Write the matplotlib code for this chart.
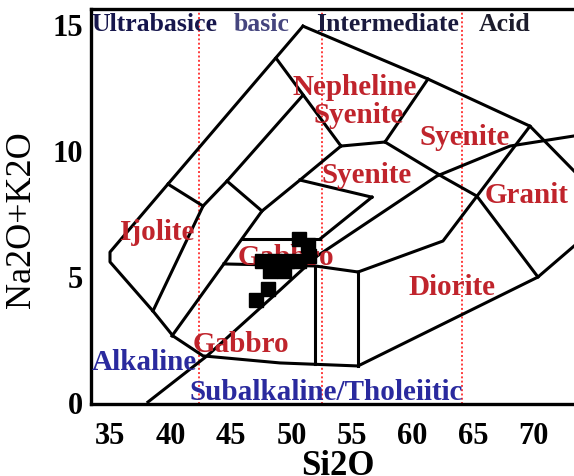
import matplotlib
matplotlib.use("Agg")
import matplotlib.pyplot as plt

# ---- field boundaries (SiO2, Na2O+K2O) ----
outer_top = [(50.95, 14.92), (61.28, 12.82), (69.71, 10.95), (73.35, 9.17)]
outer_left = [(50.95, 14.92), (39.79, 8.65), (35.0, 5.95), (35.0, 5.56), (38.55, 3.61),
              (40.21, 2.62), (42.69, 1.83), (49.05, 1.55), (55.50, 1.43), (70.37, 4.96),
              (73.35, 6.19)]
nepheline_left = [(48.72, 13.65), (54.09, 10.16)]
ijolite_right = [(50.95, 12.18), (44.67, 8.77), (42.69, 7.78), (38.55, 3.61)]
cross_1 = [(39.79, 8.65), (42.69, 7.78)]
cross_2 = [(44.67, 8.77), (47.56, 7.58)]
gabbro_left = [(54.09, 10.16), (50.70, 8.81), (47.56, 7.58), (40.12, 2.62)]
syenite_link = [(54.09, 10.16), (57.73, 10.32)]
nepheline_right = [(57.73, 10.32), (61.28, 12.82)]
granite_upper = [(57.73, 10.32), (62.52, 8.93), (65.33, 8.17), (70.37, 4.96)]
syenite_base = [(50.70, 8.81), (56.65, 8.13)]
syenite_side = [(56.65, 8.13), (52.36, 6.47)]
gabbro_top = [(45.91, 6.47), (52.36, 6.47)]
gabbro_mid = [(44.42, 5.48), (51.94, 5.40), (55.50, 5.16)]
vertical_1 = [(51.94, 5.40), (51.94, 1.50)]
vertical_2 = [(55.50, 5.16), (55.50, 1.43)]
diorite_top = [(55.50, 5.16), (62.52, 6.39), (65.33, 8.17), (69.71, 10.95)]
alkaline_line = [(38.14, 0.0), (43.02, 1.83), (49.05, 4.44), (52.11, 5.79),
                 (62.02, 8.97), (68.06, 10.16), (73.35, 10.56)]

# ---- samples ----
sample_sio2 = [50.62, 51.36, 47.56, 48.55, 49.63, 50.62, 51.45, 48.22, 49.38, 48.06, 47.07]
sample_alk = [6.47, 6.23, 5.60, 5.60, 5.60, 5.60, 5.79, 5.20, 5.20, 4.48, 4.05]

# ---- silica class limits and headers ----
class_limits = [42.36, 52.52, 64.09]
header_names = ["Ultrabasice", "basic", "Intermediate", "Acid"]
header_x = [38.7, 47.55, 57.95, 67.6]
header_colors = ["#16164c", "#45457e", "#1a1a3e", "#1c1c2c"]

field_names = ["Nepheline", "Syenite", "Syenite", "Syenite", "Granit", "Ijolite",
               "Gabbro", "Diorite", "Gabbro"]
field_x = [55.26, 55.51, 64.33, 56.25, 69.43, 38.87, 45.54, 63.25, 45.79]
field_y = [12.22, 11.11, 10.24, 8.73, 7.94, 6.47, 5.48, 4.29, 2.02]
field_ha = ["center", "center", "center", "center", "center", "center", "left", "center", "center"]

series_names = ["Alkaline", "Subalkaline/Tholeiitic"]
series_x = [37.88, 52.87]
series_y = [1.31, 0.12]

xticks = [35, 40, 45, 50, 55, 60, 65, 70]
yticks = [0, 5, 10, 15]

serif = "Liberation Serif"

fig = plt.figure(figsize=(5.74, 4.77), dpi=100)
ax = fig.add_axes([91 / 574, 72 / 477, 483 / 574, 395 / 477])
ax.set_xlim(33.43, 73.35)
ax.set_ylim(-0.08, 15.6)

for xv in class_limits:
    ax.axvline(xv, color="#ff3b3b", linestyle=(0, (1, 1.2)), lw=1.4, zorder=1)

boundaries = [outer_top, outer_left, nepheline_left, ijolite_right, cross_1, cross_2,
              gabbro_left, syenite_link, nepheline_right, granite_upper, syenite_base,
              syenite_side, gabbro_top, gabbro_mid, vertical_1, vertical_2, diorite_top,
              alkaline_line]
for seg in boundaries:
    xs = [p[0] for p in seg]
    ys = [p[1] for p in seg]
    ax.plot(xs, ys, color="black", lw=2.2, solid_joinstyle="round", zorder=2)

for name, x, c in zip(header_names, header_x, header_colors):
    ax.text(x, 14.76, name, color=c, fontsize=18.5, fontweight="bold", family=serif,
            ha="center", va="baseline", zorder=3)

for name, x, y, ha in zip(field_names, field_x, field_y, field_ha):
    ax.text(x, y, name, color="#c0242c", fontsize=21, fontweight="bold", family=serif,
            ha=ha, va="baseline", zorder=3)

for name, x, y in zip(series_names, series_x, series_y):
    ax.text(x, y, name, color="#2a2a9e", fontsize=21, fontweight="bold", family=serif,
            ha="center", va="baseline", zorder=3)

ax.plot(sample_sio2, sample_alk, "s", color="black", markersize=10, zorder=4)

ax.set_xticks(xticks)
ax.set_yticks(yticks)
ax.tick_params(length=0)
ax.tick_params(axis="x", pad=12)
ax.tick_params(axis="y", pad=6)
for lab in ax.get_xticklabels() + ax.get_yticklabels():
    lab.set_family(serif)
    lab.set_fontweight("bold")
    lab.set_fontsize(22)

ax.set_xlabel("Si2O", family=serif, fontweight="bold", fontsize=25)
ax.set_ylabel("Na2O+K2O", family=serif, fontsize=26)
ax.xaxis.set_label_coords(0.511, -0.115)
ax.yaxis.set_label_coords(-0.11, 0.47)

for side in ["left", "top", "bottom"]:
    ax.spines[side].set_linewidth(2.4)
ax.spines["right"].set_visible(False)

fig.savefig("out.png", dpi=100)
